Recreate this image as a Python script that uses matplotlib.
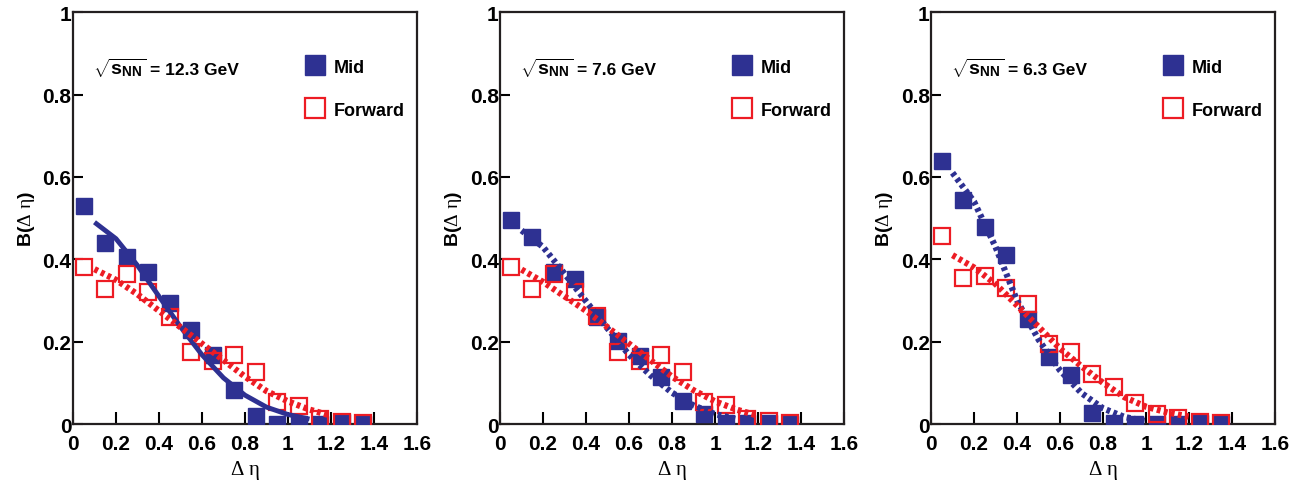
import numpy as np
import matplotlib
matplotlib.use("Agg")
import matplotlib.pyplot as plt
from matplotlib.ticker import FuncFormatter, MultipleLocator

plt.rcParams['font.family'] = ['Liberation Sans', 'DejaVu Sans']
plt.rcParams['mathtext.fontset'] = 'custom'
plt.rcParams['mathtext.rm'] = 'Liberation Serif'
plt.rcParams['mathtext.it'] = 'Liberation Serif'
plt.rcParams['mathtext.bf'] = 'Liberation Sans:bold'

BLUE = '#2e3192'
RED = '#ed1c24'

# delta-eta bin centres
deta = [0.05, 0.15, 0.25, 0.35, 0.45, 0.55, 0.65, 0.75, 0.85, 0.95,
        1.05, 1.15, 1.25, 1.35]

energies = ['12.3', '7.6', '6.3']

# balance function values per energy
mid_123 = [0.53, 0.44, 0.405, 0.37, 0.295, 0.228, 0.168, 0.083, 0.02,
           0.0, 0.0, 0.0, 0.005, 0.0]
fwd_123 = [0.381, 0.328, 0.364, 0.32, 0.259, 0.174, 0.154, 0.168, 0.126,
           0.053, 0.043, 0.011, 0.006, 0.002]
mid_76 = [0.496, 0.455, 0.368, 0.352, 0.259, 0.202, 0.166, 0.113, 0.057,
          0.024, 0.002, 0.002, 0.002, 0.0]
fwd_76 = [0.381, 0.328, 0.364, 0.32, 0.262, 0.174, 0.154, 0.168, 0.126,
          0.053, 0.045, 0.011, 0.008, 0.002]
mid_63 = [0.638, 0.544, 0.479, 0.411, 0.255, 0.162, 0.119, 0.027, 0.002,
          0.0, 0.0, 0.0, 0.002, 0.0]
fwd_63 = [0.457, 0.354, 0.36, 0.33, 0.291, 0.194, 0.174, 0.121, 0.089,
          0.05, 0.024, 0.014, 0.004, 0.002]

# fitted curves, sampled along delta-eta
fit_x = [0.1, 0.2, 0.3, 0.4, 0.5, 0.6, 0.7, 0.8, 0.9, 1.0, 1.1, 1.2]
fit_mid_123 = [0.49, 0.45, 0.385, 0.31, 0.236, 0.168, 0.112, 0.07, 0.041,
               0.023, 0.012]
fit_fwd_123 = [0.376, 0.35, 0.315, 0.275, 0.235, 0.195, 0.155, 0.115,
               0.08, 0.055, 0.035, 0.02]
fit_mid_76 = [0.47, 0.43, 0.365, 0.298, 0.232, 0.168, 0.118, 0.076, 0.045,
              0.024, 0.012]
fit_fwd_76 = [0.375, 0.345, 0.31, 0.275, 0.235, 0.195, 0.155, 0.115,
              0.082, 0.055, 0.035, 0.02]
fit_mid_63 = [0.61, 0.54, 0.43, 0.30, 0.205, 0.13, 0.075, 0.038, 0.017,
              0.007]
fit_fwd_63 = [0.41, 0.38, 0.34, 0.288, 0.236, 0.183, 0.14, 0.1, 0.065,
              0.042, 0.028, 0.018]

mids = [mid_123, mid_76, mid_63]
fwds = [fwd_123, fwd_76, fwd_63]
fit_mids = [fit_mid_123, fit_mid_76, fit_mid_63]
fit_fwds = [fit_fwd_123, fit_fwd_76, fit_fwd_63]
mid_styles = ['-', 'dot', 'dot']

dots = (0, (0.6, 0.55))

fig = plt.figure(figsize=(13.08, 4.85), dpi=100)
lefts = [0.0558, 0.3823, 0.7118]

for i in range(3):
    ax = fig.add_axes([lefts[i], 0.1237, 0.263, 0.849])

    ax.plot(deta, mids[i], 's', color=BLUE, markersize=11.5, zorder=3,
            label='Mid')
    ax.plot(deta, fwds[i], 's', mfc='none', mec=RED, mew=1.6,
            markersize=11.5, zorder=4, label='Forward')

    fm = fit_mids[i]
    if mid_styles[i] == '-':
        ax.plot(fit_x[:len(fm)], fm, '-', color=BLUE, lw=3.5, zorder=5,
                solid_capstyle='butt')
    else:
        ax.plot(fit_x[:len(fm)], fm, color=BLUE, lw=4.5, ls=dots,
                dash_capstyle='butt', zorder=5)
    ff = fit_fwds[i]
    ax.plot(fit_x[:len(ff)], ff, color=RED, lw=4.5, ls=dots,
            dash_capstyle='butt', zorder=5)

    ax.set_xlim(0, 1.6)
    ax.set_ylim(0, 1)
    ax.xaxis.set_major_locator(MultipleLocator(0.2))
    ax.yaxis.set_major_locator(MultipleLocator(0.2))
    fmt = FuncFormatter(lambda v, p: '%g' % round(v, 2))
    ax.xaxis.set_major_formatter(fmt)
    ax.yaxis.set_major_formatter(fmt)
    ax.tick_params(axis='x', direction='in', length=9, width=1.5,
                   labelsize=15, pad=7)
    ax.tick_params(axis='y', direction='in', length=7, width=1.5,
                   labelsize=15, pad=1)
    for lab in ax.get_xticklabels() + ax.get_yticklabels():
        lab.set_fontweight('bold')
    for sp in ax.spines.values():
        sp.set_linewidth(1.6)
        sp.set_color('#231f20')

    ax.set_xlabel(r'$\Delta\ \eta$', fontsize=15, labelpad=4)
    ax.set_ylabel(r'$\mathbf{B(}\Delta\ \eta\mathbf{)}$', fontsize=14,
                  labelpad=4)

    # energy label: bigger radical, then the value text after it
    rad = ax.text(0.058, 0.865, r'$\sqrt{\mathbf{s}_{\mathbf{NN}}}$',
                  transform=ax.transAxes, fontsize=14, fontweight='bold',
                  va='center', ha='left')
    ax.annotate('= ' + energies[i] + ' GeV', xy=(1.0, 0.42),
                xycoords=rad, xytext=(3, 0), textcoords='offset points',
                fontsize=12.5, fontweight='bold', va='center', ha='left')

    ax.legend(loc='upper left', bbox_to_anchor=(0.655, 0.905),
              frameon=False, handlelength=1.0, handletextpad=0.55,
              labelspacing=1.45, borderaxespad=0, markerscale=1.2,
              prop={'weight': 'bold', 'size': 13})

fig.savefig('out.png', dpi=100)
